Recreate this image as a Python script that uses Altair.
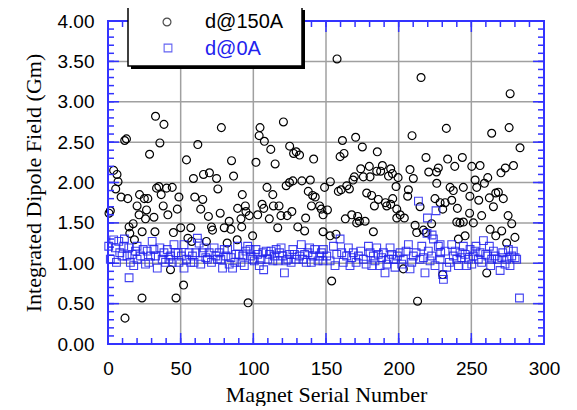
import altair as alt
import pandas as pd

# ---- data ----
# d@150A : (serial number, integrated dipole field in Gm)
d150 = [
    (32.7, 2.82), (38.5, 2.72), (78, 2.68), (104.6, 2.68), (120.7, 2.75), (11.5, 2.52), (12.7, 2.54),
    (35.7, 2.49), (61.8, 2.47), (104, 2.58), (107.6, 2.51), (112, 2.41), (125, 2.45), (127.7, 2.36),
    (129.5, 2.38), (131.8, 2.34), (141.5, 2.29), (28.6, 2.35), (54, 2.28), (85, 2.27), (101.8, 2.25),
    (115, 2.23), (3.9, 2.15), (6.2, 2.10), (6.9, 2.01), (5.3, 1.92), (65.7, 2.10), (69.8, 2.12),
    (58.8, 2.05), (74.7, 2.05), (86.4, 2.08), (75.6, 1.92), (109.4, 1.94), (122.6, 1.96), (124.9, 2.00),
    (127.2, 2.02), (133.4, 2.02), (139.2, 2.03), (137.8, 1.89), (140.8, 1.84), (142.6, 1.82), (149, 1.94),
    (9, 1.82), (13.6, 1.80), (21.7, 1.85), (25, 1.80), (27.4, 1.80), (33.4, 1.93), (35, 1.95),
    (36.6, 1.85), (40.3, 1.93), (44.2, 1.94), (48.8, 1.82), (59.7, 1.82), (65.2, 1.79), (92.4, 1.85),
    (113.4, 1.85), (0.7, 1.62), (1.6, 1.65), (20, 1.71), (26.5, 1.66), (21.4, 1.60), (25.8, 1.55),
    (31.6, 1.57), (38, 1.71), (41.2, 1.60), (47.7, 1.67), (63.8, 1.67), (69.1, 1.58), (77.2, 1.62),
    (89.2, 1.68), (94.5, 1.71), (94.9, 1.64), (91.5, 1.55), (97.2, 1.59), (103, 1.60), (106, 1.73),
    (107.2, 1.68), (111, 1.55), (113.8, 1.71), (117.7, 1.71), (119, 1.59), (123.3, 1.59), (126.5, 1.64),
    (136, 1.56), (140, 1.71), (145.6, 1.71), (146.8, 1.67), (14.5, 1.45), (17.3, 1.49), (15, 1.37),
    (23.5, 1.39), (32.3, 1.39), (18.2, 1.29), (45, 1.38), (50, 1.44), (57, 1.44), (55, 1.31),
    (57.6, 1.27), (71.2, 1.45), (71.9, 1.41), (80, 1.44), (83.4, 1.52), (84.6, 1.42), (92, 1.45),
    (99.5, 1.34), (116.8, 1.44), (130.6, 1.45), (135.3, 1.40), (148, 1.39), (67.7, 1.27), (82, 1.25),
    (88.9, 1.29), (43, 0.92), (52, 0.73), (23.4, 0.57), (46.8, 0.57), (11.7, 0.32), (96.4, 0.51),
    (161.3, 2.52), (170.4, 2.56), (175, 2.44), (159.7, 2.32), (162.4, 2.36), (185.3, 2.38), (209.2, 2.58),
    (232.8, 2.67), (264, 2.61), (276, 2.68), (283.5, 2.43), (218.8, 2.31), (233.7, 2.29), (238.6, 2.20),
    (243.8, 2.31), (250.3, 2.20), (256, 2.21), (270.4, 2.12), (273.4, 2.18), (279, 2.21), (207.8, 2.16),
    (210.1, 2.05), (220.7, 2.13), (226, 2.13), (227.3, 2.18), (226.2, 1.99), (173.9, 2.17), (169.5, 2.07),
    (168.6, 2.03), (175.7, 2.07), (179.8, 2.20), (180.3, 2.07), (184.9, 2.14), (188.8, 2.21), (187.6, 2.14),
    (194.5, 2.17), (195.7, 2.11), (199.6, 2.06), (193, 2.08), (198.2, 1.95), (153, 2.01), (158.5, 1.89),
    (160.4, 1.91), (166.1, 1.92), (164.3, 1.96), (178, 1.87), (181.4, 1.84), (186, 1.79), (190.9, 1.75),
    (195.9, 1.80), (194.5, 1.73), (198.7, 1.67), (183.3, 1.71), (191.8, 1.71), (201, 1.60), (203.9, 1.56),
    (198.7, 1.56), (206.7, 1.91), (206.2, 1.83), (214.7, 1.70), (225, 1.80), (228.5, 1.75), (232, 1.75),
    (230.3, 1.67), (236.5, 1.78), (235.4, 1.94), (237.6, 1.90), (240.4, 1.68), (244.5, 1.94), (249, 1.83),
    (253.7, 1.94), (252.6, 2.03), (255.1, 1.78), (259, 1.99), (261.3, 2.06), (262.4, 1.81), (265.2, 1.70),
    (266.8, 1.87), (268.6, 1.88), (272, 1.80), (275.3, 1.59), (277.8, 1.49), (148, 1.60), (151, 1.66),
    (163.3, 1.55), (167.7, 1.60), (171.8, 1.58), (173, 1.52), (176.9, 1.52), (171.1, 1.50), (182.6, 1.39),
    (152.8, 1.34), (156.9, 1.36), (211.3, 1.47), (212.4, 1.38), (217, 1.41), (218.8, 1.38), (222.7, 1.49),
    (240, 1.51), (242.2, 1.50), (244.5, 1.51), (251.4, 1.50), (241.1, 1.30), (245.7, 1.34), (257.1, 1.59),
    (248.8, 1.62), (262.9, 1.42), (266.8, 1.34), (270.9, 1.40), (274.3, 1.25), (280, 1.32), (260.6, 0.88),
    (203.2, 0.93), (153.9, 0.78), (230.3, 0.86), (213, 0.53), (157.6, 3.53), (215.4, 3.30), (276.7, 3.10),
]

# d@0A : (serial number, integrated dipole field in Gm)
d0 = [
    (0.5, 1.21), (3.9, 1.29), (7.4, 1.27), (11.3, 1.30), (10.8, 1.21), (8.1, 1.13), (1.6, 1.05),
    (5.8, 1.01), (13.1, 1.09), (15.4, 1.01), (17.7, 0.97), (18.9, 1.15), (20, 1.21), (22.4, 1.09),
    (25.8, 0.99), (27, 1.15), (29.3, 1.09), (30.4, 1.27), (31.6, 1.17), (33.9, 0.94), (37.3, 1.05),
    (38.5, 1.13), (40.8, 1.17), (43.1, 1.09), (45.4, 1.23), (46.5, 1.13), (48.8, 1.01), (52.3, 1.23),
    (52.3, 0.94), (55.8, 1.13), (58.1, 1.09), (59.2, 1.01), (61.5, 1.31), (62.7, 1.25), (65, 1.13),
    (67.3, 1.07), (69.6, 1.13), (73, 1.19), (75.3, 1.05), (76.5, 1.13), (78.8, 0.94), (80, 1.17),
    (81.1, 1.09), (84.6, 1.07), (85.7, 0.94), (88, 1.11), (89.2, 1.21), (91.5, 1.01), (94.9, 1.15),
    (96.1, 1.21), (98.4, 1.09), (100.7, 1.03), (103, 1.11), (105.3, 1.05), (107.1, 0.92), (108.8, 1.15),
    (111.1, 1.11), (113.4, 1.03), (115.7, 1.17), (118, 1.13), (120.3, 1.09), (121.4, 0.88), (122.6, 1.03),
    (124.9, 1.11), (127.2, 1.17), (129.5, 1.05), (133, 1.23), (135.3, 1.11), (137.6, 1.13), (139.9, 1.01),
    (142.2, 1.17), (145.6, 1.09), (147.9, 1.03), (14.5, 0.82),
    (150.5, 1.09), (155.1, 1.21), (156.2, 0.97), (159.7, 1.30), (160.8, 1.13), (164.2, 1.09), (166.5, 0.97),
    (168.8, 1.13), (172.3, 1.09), (175.7, 1.05), (179.2, 1.21), (181.5, 0.97), (182.6, 1.09), (184.9, 1.19),
    (187.2, 0.97), (189.5, 1.13), (190.6, 0.88), (192.9, 1.05), (195.2, 1.11), (197.5, 0.95), (201, 1.13),
    (203.2, 1.05), (206.7, 1.23), (207.8, 0.93), (210.1, 1.09), (213.6, 1.77), (215.9, 1.21), (217, 1.07),
    (218.1, 0.88), (219.8, 1.56), (221.6, 1.03), (223.9, 1.30), (225.7, 1.65), (227.3, 1.21), (228.9, 1.13),
    (230.3, 0.86), (230.8, 0.80), (233.1, 0.95), (236.5, 1.23), (237.6, 1.09), (240, 1.05), (242.2, 1.13),
    (244.5, 1.21), (246.8, 0.97), (249.1, 1.17), (251.4, 1.09), (253.2, 1.21), (254.8, 1.05), (258.3, 1.28),
    (259.9, 1.11), (262.4, 1.21), (264, 1.05), (266.3, 1.09), (269.8, 0.91), (271.6, 1.13), (274.3, 1.05),
    (276.6, 0.97), (278.9, 1.15), (280.1, 1.07), (283.1, 0.57), (223, 1.35), (219.5, 1.37), (228.5, 1.23),
    (5.1, 1.19), (9.7, 1.09), (14.3, 1.19), (16.6, 1.11), (20.0, 1.05), (24.2, 1.17), (28.1, 1.01),
    (32.7, 1.09), (35.7, 1.19), (39.6, 1.01), (41.9, 1.05), (44.2, 1.01), (48.2, 1.13), (50.5, 1.09),
    (54.1, 1.05), (56.9, 1.01), (60.4, 1.13), (63.8, 0.99), (66.1, 1.19), (68.4, 1.05), (71.2, 1.01),
    (74.2, 1.09), (77.6, 1.05), (82.3, 1.17), (83.4, 0.99), (87.3, 1.01), (90.3, 1.11), (92.6, 1.09),
    (93.8, 0.97), (97.7, 1.17), (99.5, 1.05), (101.8, 1.17), (104.1, 0.97), (106.5, 1.13), (109.9, 1.05),
    (112.2, 1.15), (114.5, 1.09), (116.8, 1.03), (119.1, 1.19), (123.7, 1.05), (126.0, 1.01), (128.3, 1.11),
    (131.8, 1.09), (134.1, 1.05), (136.4, 1.01), (138.7, 1.19), (141.0, 1.09), (144.5, 1.03), (146.8, 1.13),
    (148.2, 1.17), (152.8, 1.03), (157.4, 1.11), (161.9, 1.01), (165.4, 1.19), (167.7, 1.07), (170.7, 1.01),
    (173.9, 1.15), (177.6, 0.99), (180.3, 1.13), (183.7, 1.03), (186.0, 1.11), (188.3, 1.07), (191.8, 0.99),
    (194.1, 1.19), (196.4, 1.05), (199.1, 1.09), (202.1, 0.99), (205.1, 1.15), (209.0, 1.01), (212.0, 1.13),
    (214.7, 1.05), (220.4, 1.15), (222.7, 1.09), (225.0, 0.97), (228.5, 1.05), (231.9, 1.15), (234.9, 1.01),
    (238.8, 1.15), (241.1, 0.97), (243.4, 1.07), (245.7, 1.11), (248.0, 1.05), (250.3, 0.99), (252.6, 1.15),
    (256.0, 1.13), (257.1, 1.01), (261.3, 1.09), (263.3, 0.97), (265.2, 1.15), (267.9, 1.05), (270.9, 1.07),
    (273.2, 0.99), (275.5, 1.17), (277.8, 1.09), (281.2, 1.05),
]

series_labels = ["d@150A", "d@0A"]
series_colors = ["#000000", "#2222ee"]

x_labels = [0, 50, 100, 150, 200, 250, 300]
y_labels = [0.0, 0.5, 1.0, 1.5, 2.0, 2.5, 3.0, 3.5, 4.0]
x_grid = [50, 100, 150, 200, 250]
y_grid = [0.5, 1.0, 1.5, 2.0, 2.5, 3.0, 3.5]
x_minor = list(range(0, 301, 10))
y_minor = [i / 10 for i in range(0, 41)]
x_edges = [0, 300]
y_edges = [0.0, 4.0]

# ---- layout / style ----
W, H = 436, 323
BLUE = "#3333ff"
GRID = "#a0a0a0"

xs = alt.Scale(domain=[0, 300], nice=False, zero=False)
ys = alt.Scale(domain=[0, 4], nice=False, zero=False)

df150 = pd.DataFrame(d150, columns=["serial", "value"])
df0 = pd.DataFrame(d0, columns=["serial", "value"])

x_axis = alt.Axis(values=x_labels, grid=False, ticks=False, domain=False, labelFlush=False,
                  labelFont="Liberation Sans", labelFontSize=19, labelColor="black",
                  labelPadding=15, title="Magnet Serial Number",
                  titleFont="Liberation Serif", titleFontSize=22, titleFontWeight="normal",
                  titleColor="black", titlePadding=6)
y_axis = alt.Axis(values=y_labels, format=".2f", grid=False, ticks=False, domain=False,
                  labelFlush=False,
                  labelFont="Liberation Sans", labelFontSize=19, labelColor="black",
                  labelPadding=14, title="Integrated Dipole Field (Gm)",
                  titleFont="Liberation Serif", titleFontSize=22, titleFontWeight="normal",
                  titleColor="black", titlePadding=12)

one = pd.DataFrame({"k": [0]})

# grid lines drawn as thin ticks through the scales
gx = alt.Chart(pd.DataFrame({"serial": x_grid})).mark_tick(
    color=GRID, thickness=1.5, size=H, orient="vertical", opacity=1).encode(
    x=alt.X("serial:Q", scale=xs), y=alt.value(H / 2))
gy = alt.Chart(pd.DataFrame({"value": y_grid})).mark_tick(
    color=GRID, thickness=1.5, size=W, orient="horizontal", opacity=1).encode(
    y=alt.Y("value:Q", scale=ys), x=alt.value(W / 2))

# plot frame, drawn as ticks at the scale ends
fx = alt.Chart(pd.DataFrame({"serial": x_edges})).mark_tick(
    color=BLUE, thickness=2, size=H + 2, orient="vertical", opacity=1).encode(
    x=alt.X("serial:Q", scale=xs), y=alt.value(H / 2))
fy = alt.Chart(pd.DataFrame({"value": y_edges})).mark_tick(
    color=BLUE, thickness=2, size=W + 2, orient="horizontal", opacity=1).encode(
    y=alt.Y("value:Q", scale=ys), x=alt.value(W / 2))

circles = alt.Chart(df150).mark_point(shape="circle", filled=False, color="black",
                                      size=62, strokeWidth=1.2, opacity=1).encode(
    x=alt.X("serial:Q", scale=xs, axis=x_axis),
    y=alt.Y("value:Q", scale=ys, axis=y_axis),
)
squares = alt.Chart(df0).mark_point(shape="square", filled=False, color=series_colors[1],
                                    size=60, strokeWidth=1.1, opacity=0.85).encode(
    x=alt.X("serial:Q", scale=xs),
    y=alt.Y("value:Q", scale=ys),
)

def xticks(vals, length):
    d = pd.DataFrame({"serial": vals})
    bot = alt.Chart(d).mark_tick(color=BLUE, thickness=1.5, size=length, orient="vertical",
                                 opacity=1).encode(
        x=alt.X("serial:Q", scale=xs), y=alt.value(H - length / 2))
    top = alt.Chart(d).mark_tick(color=BLUE, thickness=1.5, size=length, orient="vertical",
                                 opacity=1).encode(
        x=alt.X("serial:Q", scale=xs), y=alt.value(length / 2))
    return [bot, top]

def yticks(vals, length):
    d = pd.DataFrame({"value": vals})
    lft = alt.Chart(d).mark_tick(color=BLUE, thickness=1.5, size=length, orient="horizontal",
                                 opacity=1).encode(
        y=alt.Y("value:Q", scale=ys), x=alt.value(length / 2))
    rgt = alt.Chart(d).mark_tick(color=BLUE, thickness=1.5, size=length, orient="horizontal",
                                 opacity=1).encode(
        y=alt.Y("value:Q", scale=ys), x=alt.value(W - length / 2))
    return [lft, rgt]

ticks = xticks(x_minor, 6) + xticks(x_labels, 11) + yticks(y_minor, 6) + yticks(y_labels, 11)

# legend box (drawn in pixel space of the plot)
shadow = alt.Chart(one).mark_rect(color="black").encode(
    x=alt.value(23), x2=alt.value(197), y=alt.value(-11), y2=alt.value(48))
box = alt.Chart(one).mark_rect(fill="white", stroke="black", strokeWidth=1.5).encode(
    x=alt.value(20), x2=alt.value(194), y=alt.value(-14), y2=alt.value(45))
leg_c = alt.Chart(one).mark_point(shape="circle", filled=False, color="black",
                                  size=62, strokeWidth=1.2).encode(
    x=alt.value(59), y=alt.value(1))
leg_s = alt.Chart(one).mark_point(shape="square", filled=False, color=series_colors[1],
                                  size=60, strokeWidth=1.1).encode(
    x=alt.value(60), y=alt.value(27))
leg_df = pd.DataFrame({"label": series_labels, "color": series_colors})
leg_t1 = alt.Chart(leg_df.iloc[[0]]).mark_text(align="left", baseline="middle",
                                              font="Liberation Sans", fontSize=20).encode(
    x=alt.value(97), y=alt.value(1), text="label:N", color=alt.Color("color:N", scale=None))
leg_t2 = alt.Chart(leg_df.iloc[[1]]).mark_text(align="left", baseline="middle",
                                              font="Liberation Sans", fontSize=20).encode(
    x=alt.value(97), y=alt.value(28), text="label:N", color=alt.Color("color:N", scale=None))

chart = alt.layer(
    gx, gy, circles, *ticks, squares, fx, fy, shadow, box, leg_c, leg_s, leg_t1, leg_t2
).properties(
    width=W, height=H,
    autosize=alt.AutoSizeParams(type="none"),
    padding={"left": 100, "top": 13, "right": 25, "bottom": 62},
    background="white",
).configure_view(
    stroke=BLUE, strokeWidth=1.5
)

chart.save("out.html", embed_options={"renderer": "svg", "actions": False})
